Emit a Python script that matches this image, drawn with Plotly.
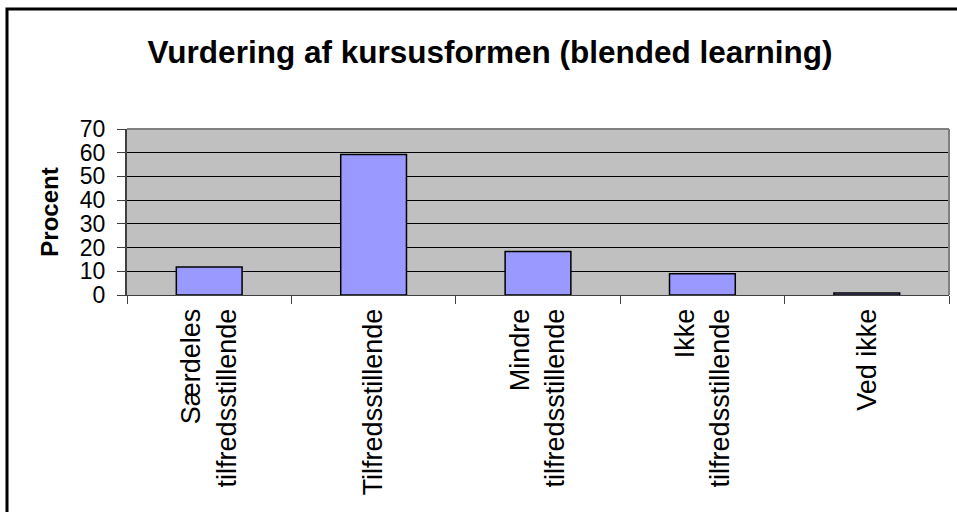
import plotly.graph_objects as go

categories = ["Særdeles<br>tilfredsstillende", "Tilfredsstillende",
              "Mindre<br>tilfredsstillende", "Ikke<br>tilfredsstillende", "Ved ikke"]
values = [11.8, 59.2, 18.3, 9.0, 0.8]
y_ticks = [0, 10, 20, 30, 40, 50, 60, 70]
title_text = "Vurdering af kursusformen (blended learning)"
y_title = "Procent"

FONT = "Liberation Sans, Arial, sans-serif"

fig = go.Figure(go.Bar(
    x=categories, y=values, width=0.4,
    marker=dict(color="#9999FF", line=dict(color="black", width=1.5)),
))

W, H = 957, 512
L, R, T, B = 127, 8, 129, 217

fig.update_layout(
    width=W, height=H,
    margin=dict(l=L, r=R, t=T, b=B),
    paper_bgcolor="white", plot_bgcolor="#C0C0C0",
    showlegend=False,
    title=dict(text="<b>" + title_text + "</b>", x=490 / W, xref="container", xanchor="center",
               y=1 - 52 / H, yref="container", yanchor="middle",
               font=dict(family=FONT, size=31.5, color="black")),
    xaxis=dict(tickangle=-90, tickfont=dict(family=FONT, size=27, color="black"),
               ticks="outside", ticklen=8, tickcolor="#404040", tickson="boundaries",
               ticklabelstandoff=2,
               showline=True, linecolor="#404040", linewidth=1, showgrid=False,
               mirror=False),
    yaxis=dict(range=[0, 70], tickvals=y_ticks, tickfont=dict(family=FONT, size=23, color="black"),
               ticks="outside", ticklen=8, tickcolor="#404040", ticklabelstandoff=7,
               showline=True, linecolor="#404040", linewidth=2,
               showgrid=True, gridcolor="black", gridwidth=1.3, zeroline=False,
               title=dict(text="<b>" + y_title + "</b>", font=dict(family=FONT, size=24, color="black"),
                          standoff=14)),
    shapes=[
        dict(type="line", xref="paper", yref="paper", x0=0, x1=1, y0=1, y1=1,
             line=dict(color="#808080", width=2)),
        dict(type="line", xref="paper", yref="paper", x0=1, x1=1, y0=0, y1=1,
             line=dict(color="#808080", width=2)),
        dict(type="rect", xref="paper", yref="paper",
             x0=(7 - L) / (W - L - R), x1=(W + 10 - L) / (W - L - R),
             y0=-(H + 10 - (H - B)) / (H - T - B), y1=1 + (T - 9) / (H - T - B),
             line=dict(color="black", width=3), layer="above"),
    ],
)

fig.write_html("out.html", config={"displayModeBar": False},
               post_script="document.body.style.margin='0';document.body.style.padding='0';")
